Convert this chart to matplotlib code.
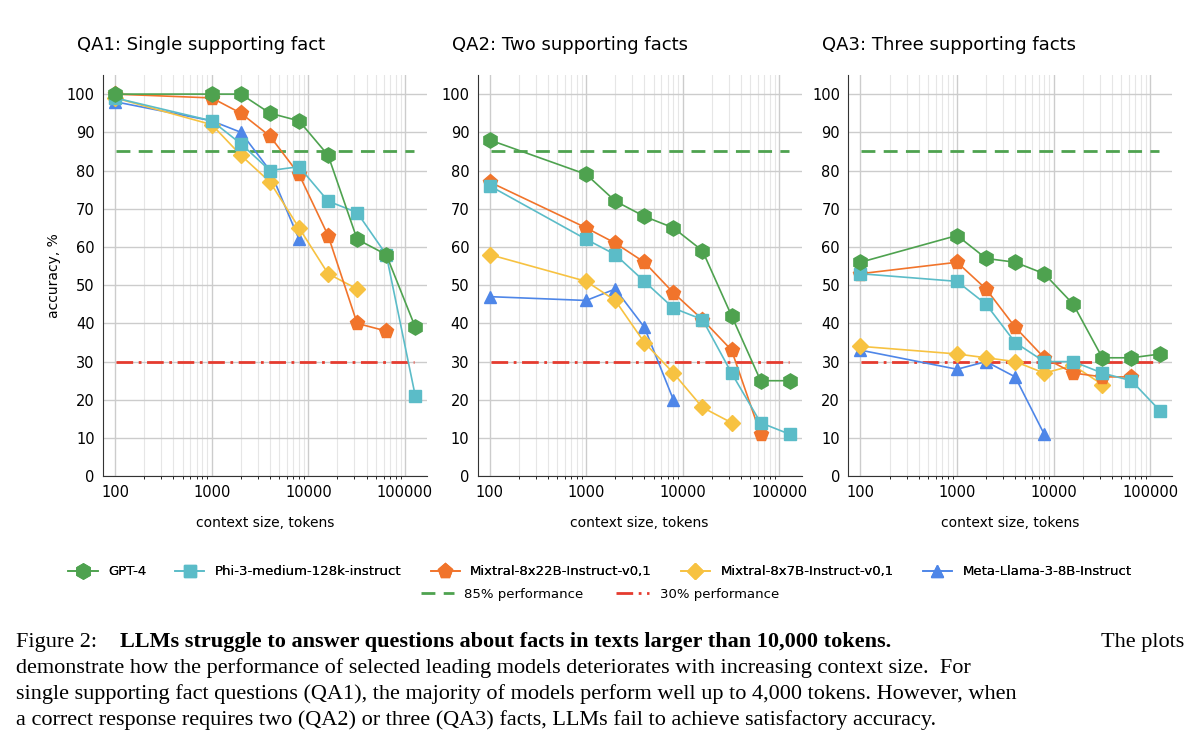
import numpy as np
import matplotlib.pyplot as plt
from matplotlib.ticker import FixedLocator, NullFormatter

ctx = [100, 1000, 2000, 4000, 8000, 16000, 32000, 64000, 128000]
titles = ['QA1: Single supporting fact', 'QA2: Two supporting facts', 'QA3: Three supporting facts']
models = ['GPT-4', 'Phi-3-medium-128k-instruct', 'Mixtral-8x22B-Instruct-v0,1',
          'Mixtral-8x7B-Instruct-v0,1', 'Meta-Llama-3-8B-Instruct']
colors = ['#4ea24f', '#5bbcc8', '#f1742b', '#f7c241', '#4e86e8']
markers = ['h', 's', 'p', 'D', '^']
sizes = [11, 8, 11, 8, 9]

qa1 = [
    [100, 100, 100, 95, 93, 84, 62, 58, 39],
    [99, 93, 87, 80, 81, 72, 69, 58, 21],
    [100, 99, 95, 89, 79, 63, 40, 38],
    [99, 92, 84, 77, 65, 53, 49],
    [98, 93, 90, 80, 62],
]
qa2 = [
    [88, 79, 72, 68, 65, 59, 42, 25, 25],
    [76, 62, 58, 51, 44, 41, 27, 14, 11],
    [77, 65, 61, 56, 48, 41, 33, 11],
    [58, 51, 46, 35, 27, 18, 14],
    [47, 46, 49, 39, 20],
]
qa3 = [
    [56, 63, 57, 56, 53, 45, 31, 31, 32],
    [53, 51, 45, 35, 30, 30, 27, 25, 17],
    [53, 56, 49, 39, 31, 27, 26, 26],
    [34, 32, 31, 30, 27, 29, 24],
    [33, 28, 30, 26, 11],
]
panels = [qa1, qa2, qa3]

caption = [
    'demonstrate how the performance of selected leading models deteriorates with increasing context size.  For',
    'single supporting fact questions (QA1), the majority of models perform well up to 4,000 tokens. However, when',
    'a correct response requires two (QA2) or three (QA3) facts, LLMs fail to achieve satisfactory accuracy.',
]

fig = plt.figure(figsize=(12, 7.5), dpi=100)
lefts = [0.086, 0.398, 0.707]
handles = []
for p in range(3):
    ax = fig.add_axes([lefts[p], 0.365, 0.27, 0.535])
    for m in range(5):
        vals = panels[p][m]
        h, = ax.plot(ctx[:len(vals)], vals, color=colors[m], marker=markers[m],
                     markersize=sizes[m], lw=1.2, markeredgecolor=colors[m], zorder=3 + (4 - m))
        if p == 0:
            handles.append(h)
    h85 = ax.axhline(85, xmin=0.04, xmax=0.96, color='#4ea24f', ls=(0, (5, 3)), lw=2)
    h30 = ax.axhline(30, xmin=0.04, xmax=0.96, color='#e53b2f', ls=(0, (6, 2, 1, 2)), lw=2)
    ax.set_xscale('log')
    ax.set_xlim(75, 170000)
    ax.set_ylim(0, 105)
    ax.set_yticks(range(0, 101, 10))
    ax.set_xticks([100, 1000, 10000, 100000])
    ax.set_xticklabels(['100', '1000', '10000', '100000'])
    ax.xaxis.set_minor_locator(FixedLocator([k * 10 ** e for e in range(2, 6) for k in range(2, 10)]))
    ax.xaxis.set_minor_formatter(NullFormatter())
    ax.grid(True, which='major', color='#cccccc', lw=1)
    ax.grid(True, which='minor', axis='x', color='#e6e6e6', lw=0.8)
    ax.set_axisbelow(True)
    for s in ['top', 'right']:
        ax.spines[s].set_visible(False)
    ax.spines['left'].set_color('#333333')
    ax.spines['bottom'].set_color('#333333')
    ax.tick_params(length=0, labelsize=10.5, pad=6)
    ax.set_title(titles[p], loc='left', fontsize=13, pad=18, x=-0.08)
    ax.set_xlabel('context size, tokens', fontsize=10, labelpad=12)
    if p == 0:
        ax.set_ylabel('accuracy, %', fontsize=10)

leg1 = fig.legend(handles, models, loc='upper center', bbox_to_anchor=(0.5, 0.262), ncol=5,
                  frameon=False, fontsize=9.5, handlelength=2.2, columnspacing=2.2)
fig.add_artist(leg1)
fig.legend([h85, h30], ['85% performance', '30% performance'], loc='upper center',
           bbox_to_anchor=(0.5, 0.232), ncol=2, frameon=False, fontsize=9.5,
           handlelength=2.5, columnspacing=2.5)

serif = 'Liberation Serif'
fs = 16
t = fig.text(0.013, 0.138, 'Figure 2: ', family=serif, fontsize=fs)
fig.text(0.1, 0.138, 'LLMs struggle to answer questions about facts in texts larger than 10,000 tokens.',
         family=serif, fontsize=fs, weight='bold')
fig.text(0.987, 0.138, 'The plots', family=serif, fontsize=fs, ha='right')
for i, line in enumerate(caption):
    fig.text(0.013, 0.103 - i * 0.035, line, family=serif, fontsize=fs)
fig.savefig('out.png')
